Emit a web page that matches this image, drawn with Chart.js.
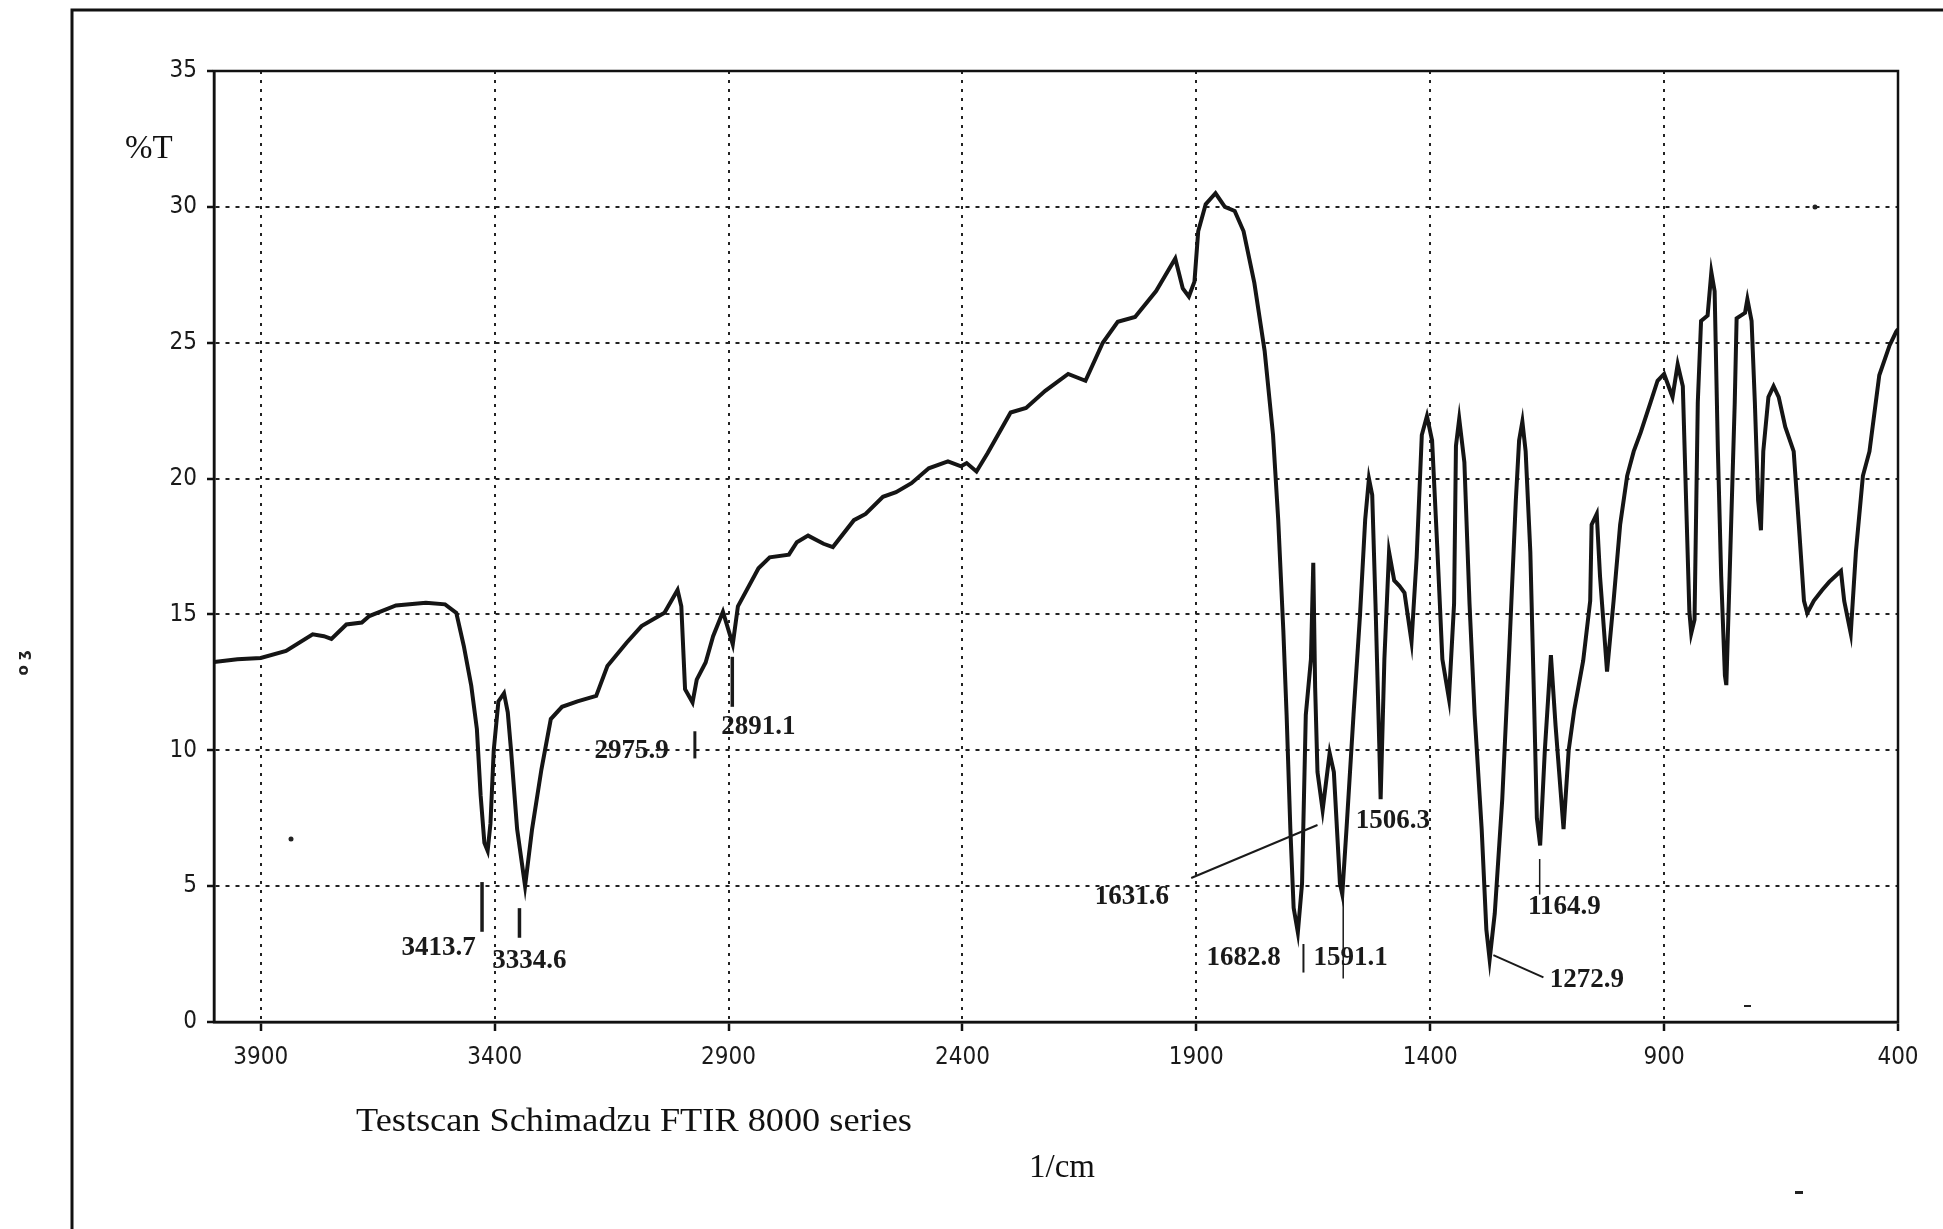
<!DOCTYPE html>
<html>
<head>
<meta charset="utf-8">
<title>FTIR spectrum</title>
<script src="https://cdn.jsdelivr.net/npm/chart.js@4.4.0/dist/chart.umd.min.js"></script>
<style>
    html, body { margin: 0; padding: 0; background: #fff; }
    #wrap { width: 1943px; height: 1229px; position: relative; }
</style>
</head>
<body>
<div id="wrap"><canvas id="ftirChart"></canvas></div>
<script>
// spectrum (wavenumber in 1/cm, transmittance in %T)
var wavenumber = [
    4000, 3950, 3900, 3846, 3789, 3765, 3749, 3717, 3684, 3668,
    3611, 3547, 3506, 3482, 3466, 3450, 3438, 3430, 3422, 3415,
    3409, 3402, 3392, 3380, 3372, 3365, 3352, 3335, 3320, 3300,
    3280, 3256, 3223, 3183, 3159, 3118, 3086, 3037, 3009, 3001,
    2993, 2977, 2968, 2949, 2933, 2912, 2891, 2880, 2836, 2812,
    2771, 2754, 2730, 2697, 2677, 2632, 2607, 2570, 2542, 2509,
    2472, 2431, 2403, 2391, 2370, 2346, 2297, 2264, 2223, 2174,
    2137, 2100, 2068, 2031, 1986, 1945, 1929, 1916, 1904, 1896,
    1880, 1859, 1839, 1818, 1799, 1776, 1754, 1736, 1725, 1714,
    1707, 1699, 1692, 1683, 1674, 1666, 1655, 1650, 1646, 1641,
    1630, 1615, 1606, 1593, 1588, 1579, 1564, 1550, 1539, 1531,
    1524, 1517, 1509, 1506, 1498, 1488, 1477, 1466, 1455, 1440,
    1429, 1418, 1407, 1396, 1385, 1374, 1360, 1349, 1345, 1338,
    1327, 1316, 1305, 1290, 1280, 1273, 1262, 1246, 1231, 1217,
    1210, 1203, 1196, 1186, 1178, 1172, 1165, 1155, 1142, 1132,
    1115, 1104, 1092, 1073, 1058, 1055, 1044, 1037, 1022, 1008,
    994, 979, 965, 950, 929, 914, 900, 882, 871, 860,
    853, 846, 842, 835, 828, 821, 807, 799, 792, 785,
    778, 770, 767, 760, 749, 745, 727, 722, 713, 706,
    699, 693, 688, 677, 666, 655, 641, 623, 612, 601,
    594, 580, 562, 547, 522, 515, 501, 490, 475, 461,
    440, 418, 404, 400
];
var transmittance = [
    13.25, 13.35, 13.4, 13.66, 14.27, 14.2, 14.1, 14.63, 14.7, 14.94,
    15.33, 15.43, 15.37, 15.06, 13.84, 12.37, 10.78, 8.34, 6.6, 6.3,
    7.3, 10.0, 11.8, 12.1, 11.4, 10.0, 7.1, 5.0, 7.1, 9.3,
    11.15, 11.6, 11.8, 12.0, 13.1, 13.96, 14.57, 15.06, 15.9, 15.3,
    12.25, 11.76, 12.6, 13.23, 14.2, 15.1, 13.9, 15.3, 16.7, 17.1,
    17.2, 17.66, 17.9, 17.6, 17.48, 18.47, 18.7, 19.33, 19.5, 19.83,
    20.38, 20.63, 20.45, 20.57, 20.26, 20.94, 22.43, 22.6, 23.23, 23.85,
    23.6, 25.0, 25.77, 25.95, 26.9, 28.1, 27.0, 26.7, 27.25, 29.1,
    30.1, 30.5, 30.0, 29.85, 29.1, 27.2, 24.7, 21.6, 18.5, 14.4,
    11.3, 7.1, 4.2, 3.3, 5.1, 11.3, 13.35, 16.9, 12.3, 9.2,
    7.8, 9.9, 9.2, 5.1, 4.7, 7.1, 11.3, 15.0, 18.5, 20.0,
    19.4, 15.4, 10.25, 8.2, 13.35, 17.3, 16.25, 16.05, 15.8, 14.0,
    17.1, 21.6, 22.3, 21.4, 17.5, 13.35, 11.9, 15.4, 21.2, 22.2,
    20.6, 15.4, 11.3, 7.1, 3.4, 2.3, 4.0, 8.2, 13.7, 19.2,
    21.4, 22.1, 21.0, 17.3, 11.8, 7.5, 6.5, 10.0, 13.5, 10.9,
    7.1, 10.0, 11.5, 13.3, 15.5, 18.3, 18.7, 16.4, 12.9, 15.5,
    18.3, 20.1, 21.0, 21.7, 22.8, 23.6, 23.85, 23.0, 24.2, 23.4,
    19.2, 15.1, 14.3, 14.8, 22.8, 25.8, 26.0, 27.6, 26.9, 21.0,
    16.4, 12.75, 12.4, 16.4, 22.8, 25.9, 26.1, 26.6, 25.8, 22.8,
    19.2, 18.1, 21.0, 23.0, 23.4, 23.0, 21.9, 21.0, 18.3, 15.5,
    15.05, 15.5, 15.9, 16.2, 16.6, 15.5, 14.3, 17.3, 20.1, 21.0,
    23.8, 24.9, 25.4, 25.5
];

var xTicks = [3900, 3400, 2900, 2400, 1900, 1400, 900, 400];
var yTicks = [0, 5, 10, 15, 20, 25, 30, 35];

// peak labels written on the print
var peakLabels = ['3413.7', '3334.6', '2975.9', '2891.1', '1631.6', '1682.8', '1591.1', '1506.3', '1272.9', '1164.9'];

// where each label sits (wavenumber, %T of the text centre)
var labelAt = [
    [3520, 2.73], [3326, 2.23], [3107, 9.98], [2836, 10.84], [2038, 4.6],
    [1799, 2.37], [1570, 2.37], [1480, 7.38], [1065, 1.55], [1113, 4.23]
];
// pointer strokes next to the labels: [wn1, t1, wn2, t2, width]
var leaders = [
    [3427, 5.15, 3427, 3.32, 3.5],
    [3347, 4.19, 3347, 3.1, 3.5],
    [2972, 10.7, 2972, 9.7, 3],
    [2892, 13.44, 2892, 11.6, 3.5],
    [1911, 5.3, 1641, 7.25, 2],
    [1671, 2.87, 1671, 1.82, 2],
    [1586, 5.0, 1586, 1.6, 1.5],
    [1265, 2.46, 1158, 1.64, 2],
    [1166, 6.0, 1166, 4.69, 1.5]
];

var tickFont = { family: "'Liberation Sans Narrow', 'DejaVu Sans Condensed', 'Liberation Sans', sans-serif", size: 24 };

function fitText(ctx, text, x, y, width) {
    var w = ctx.measureText(text).width;
    ctx.save();
    ctx.translate(x, y);
    ctx.scale(width / w, 1);
    ctx.fillText(text, 0, 0);
    ctx.restore();
}

var decorations = {
    id: 'decorations',
    afterDraw: function (chart) {
        var ctx = chart.ctx;
        var a = chart.chartArea;
        var sx = chart.scales.x;
        var sy = chart.scales.y;
        ctx.save();

        // solid box round the plot
        ctx.strokeStyle = '#111';
        ctx.lineWidth = 2.5;
        ctx.strokeRect(a.left, a.top, a.right - a.left, a.bottom - a.top);

        // edge of the scanned page
        ctx.lineWidth = 3;
        ctx.beginPath();
        ctx.moveTo(72, 1229);
        ctx.lineTo(72, 10);
        ctx.lineTo(1943, 10);
        ctx.stroke();

        // peak pointers
        ctx.strokeStyle = '#1a1a1a';
        leaders.forEach(function (l) {
            ctx.lineWidth = l[4];
            ctx.beginPath();
            ctx.moveTo(sx.getPixelForValue(l[0]), sy.getPixelForValue(l[1]));
            ctx.lineTo(sx.getPixelForValue(l[2]), sy.getPixelForValue(l[3]));
            ctx.stroke();
        });

        // peak labels
        ctx.fillStyle = '#1a1a1a';
        ctx.font = "bold 27px 'Liberation Serif', serif";
        ctx.textAlign = 'center';
        ctx.textBaseline = 'middle';
        peakLabels.forEach(function (t, i) {
            ctx.fillText(t, sx.getPixelForValue(labelAt[i][0]), sy.getPixelForValue(labelAt[i][1]));
        });

        // axis titles and footer
        ctx.fillStyle = '#111';
        ctx.textBaseline = 'alphabetic';
        ctx.font = "33px 'Liberation Serif', 'Times New Roman', serif";
        ctx.textAlign = 'left';
        ctx.fillText('%T', 125, 158);
        fitText(ctx, 'Testscan Schimadzu FTIR 8000 series', 356, 1131, 556);
        ctx.textAlign = 'center';
        ctx.fillText('1/cm', 1062, 1177);

        // specks on the scan
        ctx.fillStyle = '#222';
        ctx.beginPath(); ctx.arc(291, 839, 2.5, 0, Math.PI * 2); ctx.fill();
        ctx.beginPath(); ctx.arc(1815, 207, 2.5, 0, Math.PI * 2); ctx.fill();
        ctx.fillRect(1744, 1005, 7, 2);
        ctx.fillRect(1795, 1191, 8, 3);
        ctx.save();
        ctx.translate(24, 663);
        ctx.rotate(-Math.PI / 2);
        ctx.font = "bold 15px 'DejaVu Sans', sans-serif";
        ctx.textBaseline = 'middle';
        ctx.fillText('o \u0292', 0, 0);
        ctx.restore();

        ctx.restore();
    }
};

var points = wavenumber.map(function (w, i) { return { x: w, y: transmittance[i] }; });

var ctx = document.getElementById('ftirChart').getContext('2d');
var ftirChart = new Chart(ctx, {
    type: 'line',
    data: {
        datasets: [{
            data: points,
            borderColor: '#151515',
            borderWidth: 4,
            pointRadius: 0,
            tension: 0,
            fill: false
        }]
    },
    options: {
        responsive: true,
        maintainAspectRatio: false,
        animation: false,
        devicePixelRatio: 1,
        layout: { padding: { left: 0, top: 71, right: 45, bottom: 0 } },
        plugins: { legend: { display: false }, tooltip: { enabled: false } },
        scales: {
            x: {
                type: 'linear',
                reverse: true,
                min: 400,
                max: 4000,
                afterBuildTicks: function (scale) {
                    scale.ticks = xTicks.map(function (v) { return { value: v }; });
                },
                afterFit: function (scale) { scale.height = 207; },
                ticks: {
                    autoSkip: false,
                    maxRotation: 0,
                    padding: 12,
                    color: '#1a1a1a',
                    font: tickFont,
                    callback: function (v) { return String(v); }
                },
                grid: { color: '#222', lineWidth: 2, tickLength: 9, tickColor: '#111', tickWidth: 2.5 },
                border: { display: true, color: '#111', width: 2.5, dash: [3, 6] }
            },
            y: {
                min: 0,
                max: 35,
                afterBuildTicks: function (scale) {
                    scale.ticks = yTicks.map(function (v) { return { value: v }; });
                },
                afterFit: function (scale) { scale.width = 214; },
                ticks: {
                    padding: 10,
                    color: '#1a1a1a',
                    font: tickFont
                },
                grid: { color: '#222', lineWidth: 2, tickLength: 7, tickColor: '#111', tickWidth: 2.5 },
                border: { display: true, color: '#111', width: 2.5, dash: [4, 6] }
            }
        }
    },
    plugins: [decorations]
});
</script>
</body>
</html>
